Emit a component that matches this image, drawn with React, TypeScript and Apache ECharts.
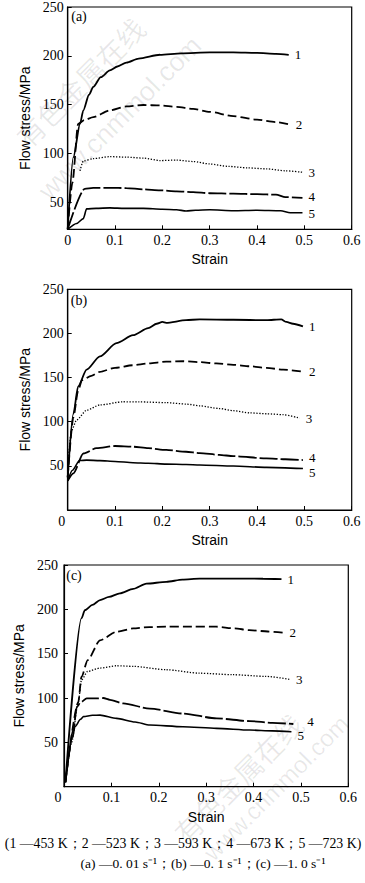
import React, { useEffect, useRef } from "react";
import * as echarts from "echarts";

// ---------- Data (strain, flow stress / MPa) ----------
// Panel (a) 0.01 s^-1
const aS1 = [0, 0.012, 0.026, 0.033, 0.045, 0.054, 0.07, 0.089, 0.105, 0.124, 0.15, 0.195, 0.24, 0.3, 0.35, 0.4, 0.44, 0.467];
const aV1 = [22, 96, 130, 144, 160, 168, 178, 185, 189, 193, 197, 201, 202.5, 203.5, 203.5, 203, 202, 201];
const aS2 = [0, 0.01, 0.022, 0.035, 0.054, 0.089, 0.124, 0.16, 0.195, 0.23, 0.265, 0.3, 0.35, 0.4, 0.44, 0.469];
const aV2 = [22, 70, 130, 134, 137, 144, 148, 149.5, 149, 147.5, 145.5, 142.5, 138, 134.5, 132, 129.5];
const aS3 = [0.026, 0.033, 0.054, 0.089, 0.124, 0.16, 0.195, 0.23, 0.265, 0.3, 0.34, 0.38, 0.42, 0.46, 0.496];
const aV3 = [82, 92, 94.5, 96.5, 96, 95, 92.5, 93, 91.5, 89, 86.5, 85, 84, 82, 80.5];
const aS4 = [0, 0.036, 0.054, 0.09, 0.124, 0.16, 0.195, 0.23, 0.265, 0.3, 0.35, 0.4, 0.44, 0.46, 0.496];
const aV4 = [22, 63.5, 64.5, 64.5, 64.3, 63, 62, 61, 60.2, 59, 58.5, 58, 57.5, 55, 54.3];
const aS5 = [0, 0.019, 0.033, 0.04, 0.06, 0.089, 0.12, 0.16, 0.2, 0.23, 0.25, 0.27, 0.3, 0.35, 0.4, 0.45, 0.47, 0.496];
const aV5 = [22, 28, 33, 43, 43.5, 44, 43.5, 43.5, 42.5, 42, 40.8, 41.5, 42, 41, 41.5, 41, 39, 39];

// Panel (b) 0.1 s^-1
const bS1 = [0, 0.012, 0.022, 0.04, 0.068, 0.103, 0.138, 0.17, 0.188, 0.2, 0.208, 0.25, 0.279, 0.35, 0.42, 0.451, 0.462, 0.476, 0.497];
const bV1 = [37, 109, 140, 159, 174, 189, 198, 206, 211, 213, 212, 215, 216, 215.5, 215, 216, 213, 211, 208];
const bS2 = [0, 0.012, 0.022, 0.03, 0.05, 0.068, 0.1, 0.138, 0.17, 0.208, 0.244, 0.28, 0.314, 0.35, 0.385, 0.42, 0.455, 0.497];
const bV2 = [37, 105, 135, 147, 152, 156.5, 161, 164, 166, 168, 168.5, 167.5, 166, 164.5, 162.8, 161, 159, 156.6];
const bS3 = [0, 0.008, 0.019, 0.04, 0.068, 0.117, 0.15, 0.208, 0.25, 0.279, 0.32, 0.35, 0.385, 0.42, 0.455, 0.49];
const bV3 = [45, 90, 102, 113, 119, 122.6, 122.5, 121.6, 120, 118, 115, 112.5, 110, 109, 108, 104];
const bS4 = [0, 0.012, 0.033, 0.061, 0.1, 0.138, 0.17, 0.208, 0.25, 0.279, 0.32, 0.35, 0.42, 0.46, 0.497];
const bV4 = [33, 41.5, 64, 70, 72.5, 71.7, 70, 68, 66, 64.5, 62.5, 61, 58.5, 57.5, 56.6];
const bS5 = [0, 0.01, 0.025, 0.04, 0.068, 0.1, 0.138, 0.17, 0.208, 0.25, 0.279, 0.35, 0.42, 0.497];
const bV5 = [33, 45, 56, 56.5, 55.9, 55, 53.6, 53, 52, 51.5, 51, 49.8, 48.3, 47];

// Panel (c) 1.0 s^-1
const cS1 = [0.003, 0.037, 0.044, 0.06, 0.076, 0.095, 0.118, 0.146, 0.174, 0.216, 0.25, 0.286, 0.356, 0.42, 0.459];
const cV1 = [5, 190, 199, 205, 210.5, 214, 218, 223, 229, 231, 233.5, 234.6, 234.6, 234.5, 234];
const cS2 = [0.003, 0.03, 0.037, 0.05, 0.076, 0.111, 0.146, 0.18, 0.216, 0.27, 0.321, 0.36, 0.391, 0.43, 0.463];
const cV2 = [5, 95, 124, 142.8, 165, 174.7, 178.5, 180, 180.4, 180.5, 180.4, 178.5, 176.6, 175, 173.6];
const cS3 = [0.003, 0.016, 0.03, 0.037, 0.05, 0.076, 0.111, 0.146, 0.216, 0.286, 0.356, 0.426, 0.477];
const cV3 = [5, 50, 95, 120.5, 130, 133.8, 136.4, 135.7, 131.9, 128, 126.3, 124.4, 121];
const cS4 = [0.003, 0.02, 0.027, 0.035, 0.048, 0.07, 0.083, 0.097, 0.125, 0.181, 0.251, 0.322, 0.392, 0.44, 0.484];
const cV4 = [5, 65, 90, 95, 99.6, 99.6, 100, 98, 94, 88, 82.5, 77, 74, 72, 70.7];
const cS5 = [0.003, 0.018, 0.023, 0.035, 0.041, 0.06, 0.076, 0.111, 0.15, 0.181, 0.251, 0.322, 0.392, 0.44, 0.48];
const cV5 = [5, 55, 67.6, 76, 79, 80.5, 80.7, 77, 73, 69.5, 67.6, 65.8, 63.9, 63, 62];

const curveNames = ["1", "2", "3", "4", "5"];
const panelTags = ["(a)", "(b)", "(c)"];
const yTicks = [50, 100, 150, 200, 250];
const yMins = [22, 0, 0];
const xName = "Strain";
const yName = "Flow stress/MPa";
const caption1 = "(1 —453 K；2 —523 K；3 —593 K；4 —673 K；5 —723 K)";
const caption2 = "(a) —0. 01 s⁻¹；(b) —0. 1 s⁻¹；(c) —1. 0 s⁻¹";
const watermarkCn = "有色金属在线";
const watermarkEn = "www.cnmmol.com";

const panels = [
  [[aS1, aV1], [aS2, aV2], [aS3, aV3], [aS4, aV4], [aS5, aV5]],
  [[bS1, bV1], [bS2, bV2], [bS3, bV3], [bS4, bV4], [bS5, bV5]],
  [[cS1, cV1], [cS2, cV2], [cS3, cV3], [cS4, cV4], [cS5, cV5]],
];

const SERIF = "'Liberation Serif', 'Times New Roman', serif";
const SANS = "'Liberation Sans', Arial, sans-serif";

const grids = [
  { left: 67.7, right: 13.3, top: 6.1, height: 223.2 },
  { left: 67.7, right: 13.3, top: 289.3, height: 220.7 },
  { left: 64, right: 16.7, top: 565, height: 221.7 },
];

const lineStyles: any[] = [
  { type: "solid", width: 1.8 },
  { type: [9, 4], width: 1.8 },
  { type: [1.3, 1.6], width: 1.3 },
  { type: [18, 3], width: 1.8 },
  { type: "solid", width: 1.6 },
];

// end-label nudges per panel/curve [dx, dy]
const labelNudge = [
  [[0, 0], [0, 0], [0, 0], [0, -1], [0, 1]],
  [[0, 0], [0, 0], [0, 0], [0, -3], [0, 4]],
  [[0, 0], [0, 0], [0, 0], [8, -3], [0, 4]],
];

export default function App() {
  const ref = useRef<HTMLDivElement>(null);
  useEffect(() => {
    if (!ref.current) return;
    const chart = echarts.init(ref.current, null, { renderer: "svg" });

    const xAxis: any[] = [];
    const yAxis: any[] = [];
    const series: any[] = [];
    panels.forEach((curves, p) => {
      xAxis.push({
        type: "value",
        gridIndex: p,
        min: 0,
        max: 0.6,
        interval: 0.1,
        name: xName,
        nameLocation: "middle",
        nameGap: 23,
        nameTextStyle: { fontFamily: SANS, fontSize: 14, color: "#000" },
        axisLine: { show: true, lineStyle: { color: "#000", width: 1.2 } },
        axisTick: { show: true, inside: true, length: 4, lineStyle: { color: "#000" } },
        splitLine: { show: false },
        axisLabel: {
          fontFamily: SERIF,
          fontSize: 14,
          color: "#000",
          margin: 4,
          formatter: (v: number) => (p > 0 && v === 0 ? "{z|0}" : String(+v.toFixed(1))),
          rich: { z: { fontFamily: SERIF, fontSize: 14, color: "#000", padding: [0, 12, 0, 0] } },
        },
      });
      yAxis.push({
        type: "value",
        gridIndex: p,
        min: yMins[p],
        max: 250,
        name: yName,
        nameLocation: "middle",
        nameGap: 33,
        nameRotate: 90,
        nameTextStyle: { fontFamily: SANS, fontSize: 14, color: "#000" },
        axisLine: { show: true, lineStyle: { color: "#000", width: 1.2 } },
        axisTick: { show: true, inside: true, length: 4, customValues: yTicks, lineStyle: { color: "#000" } },
        splitLine: { show: false },
        axisLabel: {
          fontFamily: SERIF,
          fontSize: 14,
          color: "#000",
          margin: p === 2 ? 6 : 4,
          customValues: yTicks,
        },
      });
      curves.forEach(([s, v], k) => {
        series.push({
          type: "line",
          xAxisIndex: p,
          yAxisIndex: p,
          data: s.map((x: number, i: number) => [x, v[i]]),
          showSymbol: false,
          symbol: "none",
          smooth: 0.25,
          smoothMonotone: "x",
          lineStyle: { color: "#000", ...lineStyles[k] },
          endLabel: {
            show: true,
            formatter: curveNames[k],
            fontFamily: SERIF,
            fontSize: 13,
            color: "#000",
            distance: 6,
            offset: labelNudge[p][k],
          },
          silent: true,
        });
      });
    });

    const graphic: any[] = [];
    const tagPos = [
      [79, 16],
      [79, 300],
      [74, 575],
    ];
    panelTags.forEach((t, i) => {
      graphic.push({
        type: "text",
        x: tagPos[i][0],
        y: tagPos[i][1],
        style: { text: t, fill: "#000", font: `14px ${SERIF}`, align: "center", verticalAlign: "middle" },
        z: 10,
      });
    });
    graphic.push({
      type: "text",
      x: 183,
      y: 843,
      style: { text: caption1, fill: "#000", font: `13.8px ${SERIF}`, align: "center", verticalAlign: "middle" },
    });
    graphic.push({
      type: "text",
      x: 203,
      y: 863,
      style: { text: caption2, fill: "#000", font: `13.5px ${SERIF}`, align: "center", verticalAlign: "middle" },
    });
    const wm = [
      [watermarkCn, 80, 82, `28px 'Noto Sans CJK SC', sans-serif`],
      [watermarkEn, 120, 118, `27px ${SANS}`],
      [watermarkCn, 238, 778, `28px 'Noto Sans CJK SC', sans-serif`],
      [watermarkEn, 276, 788, `24px ${SANS}`],
    ];
    wm.forEach(([t, x, y, f]) => {
      graphic.push({
        type: "text",
        x,
        y,
        rotation: Math.PI / 4,
        silent: true,
        z: 0,
        style: { text: t, fill: "rgba(0,0,0,0.09)", font: f, align: "center", verticalAlign: "middle" },
      });
    });

    chart.setOption({
      animation: false,
      backgroundColor: "#fff",
      grid: grids.map((g) => ({ ...g, show: true, borderColor: "#000", borderWidth: 1.2, backgroundColor: "transparent" })),
      xAxis,
      yAxis,
      series,
      graphic,
    });
    return () => chart.dispose();
  }, []);
  return (
    <div
      ref={ref}
      style={{ position: "fixed", left: 0, top: 0, width: 365, height: 883, background: "#fff" }}
    />
  );
}
